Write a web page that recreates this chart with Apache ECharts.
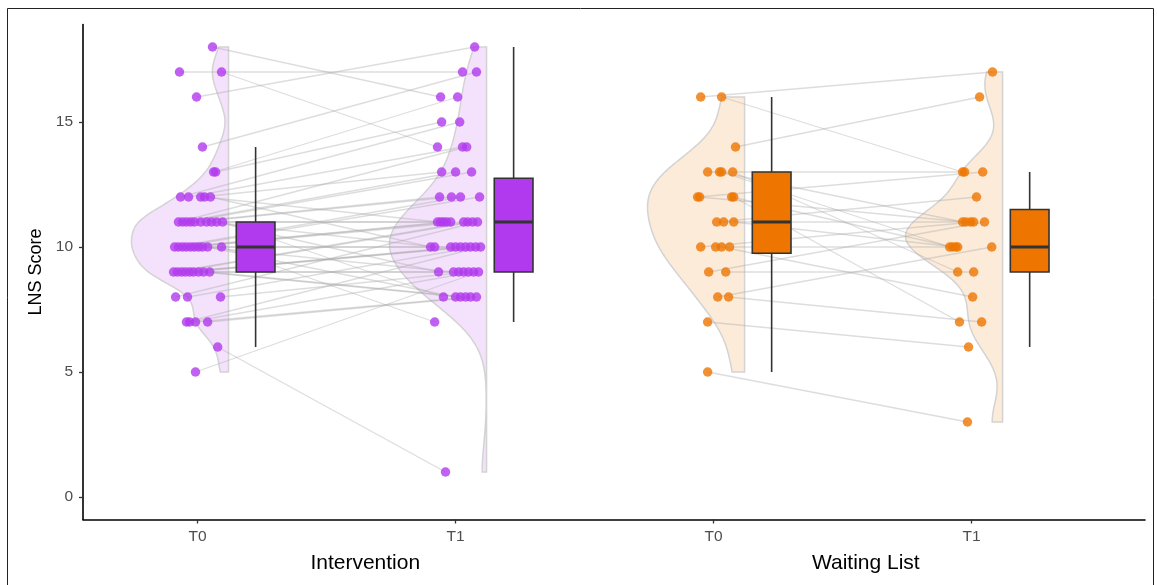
<!DOCTYPE html>
<html><head><meta charset="utf-8">
<script src="https://cdn.jsdelivr.net/npm/echarts@6/dist/echarts.min.js"></script>
<style>html,body{margin:0;padding:0;background:#fff}#c{width:1157px;height:585px}</style>
</head><body><div id="c"></div>
<script>
// ---------- data ----------
const tickLabels = ['T0', 'T1', 'T0', 'T1'];
const groupLabels = ['Intervention', 'Waiting List'];
const yTicks = [0, 5, 10, 15];
const yTitle = 'LNS Score';

// Intervention: paired scores (participant i) and horizontal jitter
const intT0 = [18,17,17,16,14,13,13,12,12,12,12,12,11,11,11,11,11,11,11,11,11,11,10,10,10,10,10,10,10,10,10,10,9,9,9,9,9,9,9,9,9,8,8,8,7,7,7,7,6,5];
const intT1 = [16,17,14,18,17,16,15,15,14,13,11,10,14,13,13,12,12,11,11,10,9,8,12,12,11,11,11,10,10,9,8,7,11,11,10,10,10,9,9,8,8,11,10,9,10,9,8,8,1,9];
const intJ0 = [0.058,-0.070,0.093,-0.004,0.019,0.062,0.070,-0.066,-0.035,0.012,0.027,0.050,-0.074,-0.058,-0.043,-0.027,-0.012,0.012,0.035,0.054,0.074,0.097,-0.089,-0.074,-0.058,-0.043,-0.027,-0.012,0.004,0.019,0.039,0.093,-0.093,-0.078,-0.062,-0.047,-0.031,-0.016,0.004,0.023,0.047,-0.085,-0.039,0.089,-0.043,-0.031,-0.008,0.039,0.078,-0.008];
const intJ1 = [-0.058,0.027,-0.070,0.074,0.081,0.008,-0.054,0.016,0.027,-0.054,-0.070,-0.097,0.043,0,0.062,-0.062,-0.016,-0.058,-0.047,-0.081,-0.066,-0.047,0.019,0.093,-0.035,-0.019,0.031,-0.019,0,-0.008,0,-0.081,0.047,0.066,0.019,0.039,0.058,0.012,0.031,0.019,0.039,0.085,0.078,0.050,0.097,0.070,0.058,0.081,-0.039,0.089];

// Waiting list
const wlT0 = [16,16,14,13,13,13,13,12,12,12,12,11,11,11,10,10,10,10,9,9,8,8,7,5];
const wlT1 = [17,13,16,13,11,10,9,13,11,10,7,12,11,10,11,10,8,null,11,9,10,7,6,3];
const wlJ0 = [-0.050,0.031,0.085,-0.023,0.023,0.031,0.074,-0.062,-0.054,0.070,0.078,0.012,0.039,0.078,-0.050,0.008,0.031,0.062,-0.019,0.047,0.016,0.058,-0.023,-0.023];
const wlJ1 = [0.081,-0.035,0.031,-0.027,-0.035,-0.085,-0.054,0.043,-0.023,-0.074,-0.047,0.019,-0.004,-0.062,0.008,-0.054,0.004,0,0.050,0.008,0.078,0.039,-0.012,-0.016];

// ---------- layout / style ----------
const POS = [1, 2, 3, 4];
const GROUP_POS = [1.65, 3.59];
const COLORS = ['#B23AEE', '#B23AEE', '#EE7600', '#EE7600'];
const VIOLIN_EDGE = 0.12, VIOLIN_W = 0.376, BOX_OFF = 0.225, BOX_W = 0.15;
const FONT = 'Liberation Sans, Arial, sans-serif';

const conds = [
  {vals: intT0, jit: intJ0},
  {vals: intT1, jit: intJ1},
  {vals: wlT0, jit: wlJ0},
  {vals: wlT1, jit: wlJ1}
];

// ---------- statistics ----------
function sorted(a){ return a.filter(v => v != null).sort((x, y) => x - y); }
function q7(s, p){ const h = (s.length - 1) * p, lo = Math.floor(h); const hi = Math.min(lo + 1, s.length - 1); return s[lo] + (h - lo) * (s[hi] - s[lo]); }
function boxStats(a){
  const s = sorted(a); const q1 = q7(s, .25), md = q7(s, .5), q3 = q7(s, .75), iqr = q3 - q1;
  const lo = s.find(v => v >= q1 - 1.5 * iqr); const hi = s.slice().reverse().find(v => v <= q3 + 1.5 * iqr);
  return [lo, q1, md, q3, hi];
}
function bwNrd0(s){
  const n = s.length, m = s.reduce((a, b) => a + b, 0) / n;
  const sd = Math.sqrt(s.reduce((a, b) => a + (b - m) * (b - m), 0) / (n - 1));
  let lo = Math.min(sd, (q7(s, .75) - q7(s, .25)) / 1.34); if (!(lo > 0)) lo = sd || 1;
  return 0.9 * lo * Math.pow(n, -0.2);
}
function violinPoly(a, pos){
  const s = sorted(a), bw = bwNrd0(s), mn = s[0], mx = s[s.length - 1], N = 256;
  const ys = [], ds = [];
  for (let k = 0; k < N; k++){
    const y = mn + (mx - mn) * k / (N - 1); let d = 0;
    for (const v of s){ const z = (y - v) / bw; d += Math.exp(-0.5 * z * z); }
    ys.push(y); ds.push(d);
  }
  const dmax = Math.max.apply(null, ds), edge = pos + VIOLIN_EDGE;
  const pts = [[edge, mn]];
  for (let k = 0; k < N; k++) pts.push([edge - ds[k] / dmax * VIOLIN_W, ys[k]]);
  pts.push([edge, mx]);
  return pts;
}

const violins = conds.map((c, i) => violinPoly(c.vals, POS[i]));
const boxes = conds.map((c, i) => [POS[i] + BOX_OFF].concat(boxStats(c.vals), [i]));
const points = conds.map((c, i) => c.vals.map((v, k) => v == null ? null : [POS[i] + c.jit[k], v]).filter(p => p));

const links = [];
[[0, 1], [2, 3]].forEach(([a, b]) => {
  conds[a].vals.forEach((v, k) => {
    const w = conds[b].vals[k];
    if (v != null && w != null) links.push([POS[a] + conds[a].jit[k], v, POS[b] + conds[b].jit[k], w]);
  });
});

// ---------- chart ----------
const chart = echarts.init(document.getElementById('c'), null, {renderer: 'canvas'});
const xMin = 0.556, xMax = 4.672;

const series = [];
series.push({
  type: 'custom', z: 1, silent: true,
  data: violins.map((v, i) => [POS[i], 10]),
  renderItem(params, api){
    const pts = violins[params.dataIndex].map(p => api.coord(p));
    return {type: 'group', children: [
      {type: 'polygon', shape: {points: pts}, style: {fill: COLORS[params.dataIndex], opacity: 0.15}},
      {type: 'polygon', shape: {points: pts}, style: {fill: 'none', stroke: '#D3D3D3', lineWidth: 1.5}}
    ]};
  }
});
series.push({
  type: 'custom', z: 2, silent: true,
  data: links,
  encode: {x: [0, 2], y: [1, 3]},
  renderItem(params, api){
    const p0 = api.coord([api.value(0), api.value(1)]), p1 = api.coord([api.value(2), api.value(3)]);
    return {type: 'line', shape: {x1: p0[0], y1: p0[1], x2: p1[0], y2: p1[1]},
      style: {stroke: 'rgba(170,170,170,0.4)', lineWidth: 1.3}};
  }
});
points.forEach((pts, i) => {
  series.push({
    type: 'scatter', z: 3, silent: true, data: pts, symbolSize: 9.5,
    itemStyle: {color: COLORS[i], opacity: 0.8}
  });
});
series.push({
  type: 'custom', z: 4, silent: true,
  data: boxes,
  encode: {x: 0, y: [1, 2, 3, 4, 5]},
  renderItem(params, api){
    const x = api.value(0);
    const c = (v) => api.coord([x, v]);
    const cx = c(api.value(3))[0];
    const half = (api.coord([x + BOX_W / 2, 0])[0] - api.coord([x - BOX_W / 2, 0])[0]) / 2;
    const yl = c(api.value(1))[1], y1 = c(api.value(2))[1], ym = c(api.value(3))[1], y3 = c(api.value(4))[1], yh = c(api.value(5))[1];
    const col = COLORS[api.value(6)];
    const st = {stroke: '#333333', lineWidth: 1.6};
    return {type: 'group', children: [
      {type: 'line', shape: {x1: cx, y1: yh, x2: cx, y2: y3}, style: st},
      {type: 'line', shape: {x1: cx, y1: y1, x2: cx, y2: yl}, style: st},
      {type: 'rect', shape: {x: cx - half, y: y3, width: 2 * half, height: y1 - y3}, style: {fill: col, stroke: '#333333', lineWidth: 1.6}},
      {type: 'line', shape: {x1: cx - half, y1: ym, x2: cx + half, y2: ym}, style: {stroke: '#333333', lineWidth: 3.2}}
    ]};
  }
});

chart.setOption({
  animation: false,
  backgroundColor: '#ffffff',
  grid: {left: 83, right: 12, top: 24.5, bottom: 65.5, containLabel: false},
  xAxis: [{
    type: 'value', min: xMin, max: xMax, position: 'bottom',
    axisLine: {show: true, onZero: false, lineStyle: {color: '#000', width: 1.6}},
    axisTick: {show: true, customValues: POS, length: 4, lineStyle: {color: '#333', width: 1.3}},
    axisLabel: {customValues: POS, formatter: v => tickLabels[POS.indexOf(v)] || '', color: '#4D4D4D', fontSize: 15.5, fontFamily: FONT, margin: 9},
    splitLine: {show: false}
  }, {
    type: 'value', min: xMin, max: xMax, position: 'bottom', offset: 0,
    axisLine: {show: false}, axisTick: {show: false},
    axisLabel: {customValues: GROUP_POS, formatter: v => groupLabels[GROUP_POS.indexOf(v)] || '', color: '#000', fontSize: 21, fontFamily: FONT, margin: 33},
    splitLine: {show: false}
  }],
  yAxis: {
    type: 'value', min: -0.9, max: 18.9,
    name: yTitle, nameLocation: 'middle', nameGap: 37, nameRotate: 90,
    nameTextStyle: {color: '#000', fontSize: 18, fontFamily: FONT},
    axisLine: {show: true, onZero: false, lineStyle: {color: '#000', width: 1.6}},
    axisTick: {show: true, customValues: yTicks, length: 4, lineStyle: {color: '#333', width: 1.3}},
    axisLabel: {customValues: yTicks, color: '#4D4D4D', fontSize: 15.5, fontFamily: FONT, margin: 10},
    splitLine: {show: false}
  },
  graphic: [{
    type: 'rect', z: 100, silent: true,
    shape: {x: 7.5, y: 8.5, width: 1146, height: 600},
    style: {fill: 'none', stroke: '#222', lineWidth: 1}
  }],
  series: series
});
</script></body></html>
